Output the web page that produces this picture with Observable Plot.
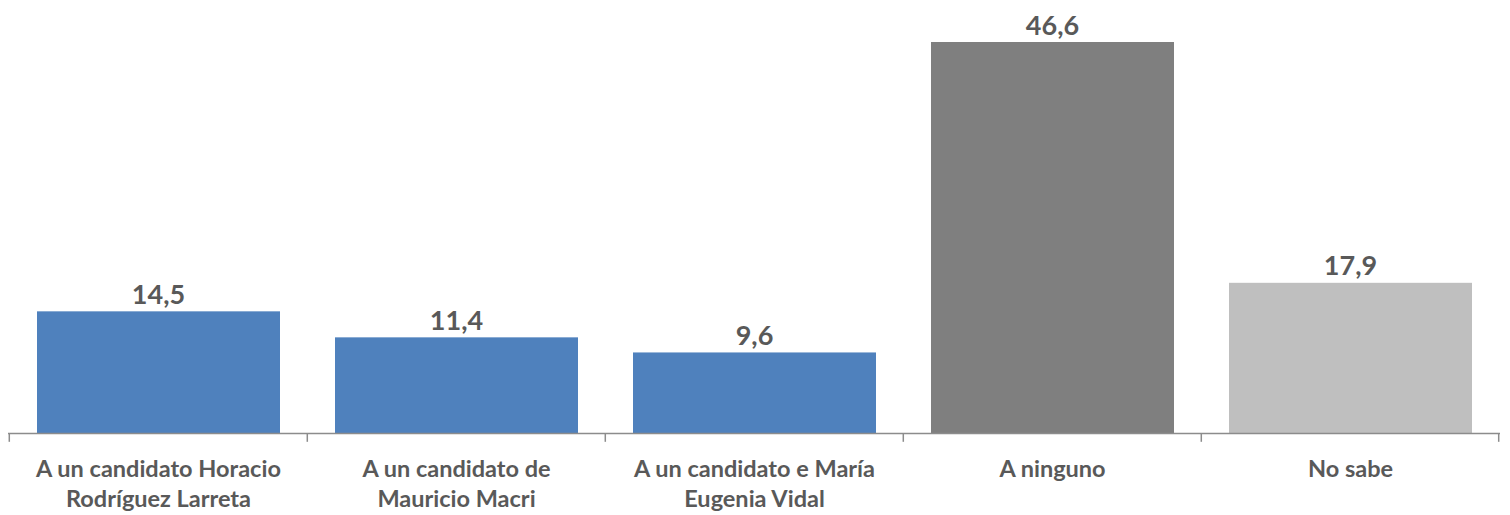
<!DOCTYPE html>
<html><head><meta charset="utf-8">
<script src="https://cdn.jsdelivr.net/npm/d3@7"></script>
<script src="https://cdn.jsdelivr.net/npm/@observablehq/plot@0.6"></script>
<style>body{margin:0;background:#fff;} svg{display:block;}</style>
</head><body><div id="chart"></div>
<script>
const categories = ["A un candidato Horacio\nRodríguez Larreta","A un candidato de\nMauricio Macri","A un candidato e María\nEugenia Vidal","A ninguno","No sabe"];
const values = [14.5, 11.4, 9.6, 46.6, 17.9];
const colors = ["#4F81BD","#4F81BD","#4F81BD","#7F7F7F","#BFBFBF"];
const valueLabels = ["14,5","11,4","9,6","46,6","17,9"];

const data = categories.map((c,i)=>({cat:c, value:values[i], color:colors[i], label:valueLabels[i]}));
const W = 1510, mL = 8, mR = 10;
const bw = (W - mL - mR) / categories.length;

const chart = Plot.plot({
  width: W, height: 515,
  marginLeft: mL, marginRight: mR, marginTop: 42, marginBottom: 82,
  style: {fontFamily: "Lato, sans-serif", background: "#fff"},
  x: {domain: categories, padding: 0, label: null},
  y: {domain: [0, 46.6], axis: null},
  marks: [
    Plot.barY(data, {x: "cat", y: "value", fill: "color", insetLeft: 28, insetRight: 27}),
    Plot.ruleY([0], {stroke: "#8c8c8c", strokeWidth: 1.5}),
    Plot.ruleX(categories, {x: d=>d, dx: -bw/2, y1: 0, y2: -1.05, stroke: "#8c8c8c", strokeWidth: 1.5}),
    Plot.ruleX([categories[categories.length-1]], {x: d=>d, dx: bw/2 - 1, y1: 0, y2: -1.05, stroke: "#8c8c8c", strokeWidth: 1.5}),
    Plot.text(data, {x: "cat", y: "value", text: "label", dy: -8, lineAnchor: "bottom", fontSize: 27, fontWeight: "bold", fill: "#595959", letterSpacing: "0.5px"}),
    Plot.axisX({tickSize: 0, tickPadding: 22, fontSize: 23.5, fontWeight: "bold", fill: "#595959", lineHeight: 1.28, lineWidth: 100, label: null, letterSpacing: "0.3px"})
  ]
});
document.getElementById("chart").append(chart);
</script>
</body></html>
